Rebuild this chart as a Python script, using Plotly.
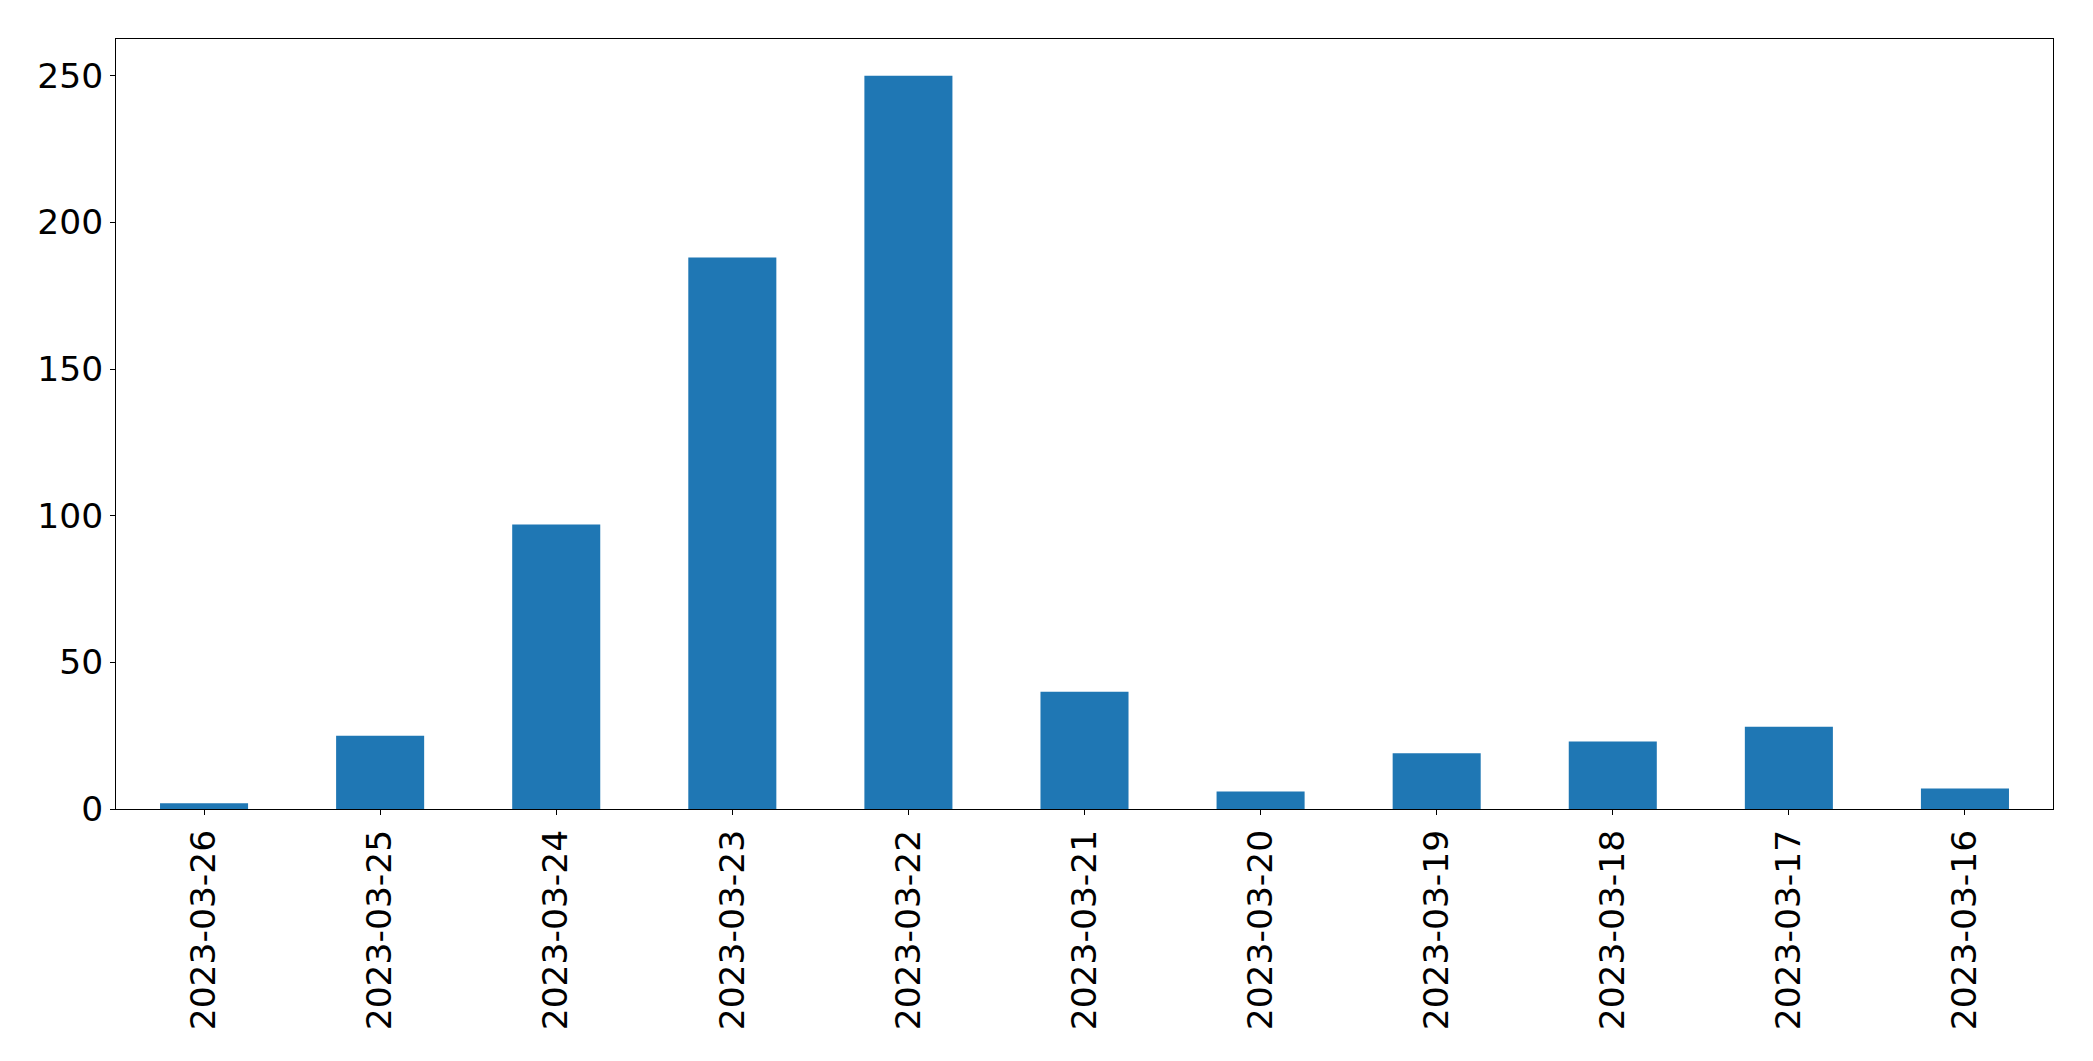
import plotly.graph_objects as go

dates = ["2023-03-26", "2023-03-25", "2023-03-24", "2023-03-23", "2023-03-22",
         "2023-03-21", "2023-03-20", "2023-03-19", "2023-03-18", "2023-03-17",
         "2023-03-16"]
counts = [2, 25, 97, 188, 250, 40, 6, 19, 23, 28, 7]
y_ticks = [0, 50, 100, 150, 200, 250]

fig = go.Figure(go.Bar(x=dates, y=counts, marker=dict(color="#1f77b4", line=dict(width=0))))

font = dict(family="DejaVu Sans", size=34.5, color="black")
fig.update_layout(
    width=2085, height=1053,
    margin=dict(l=108, r=40, t=31, b=252),
    paper_bgcolor="white", plot_bgcolor="white",
    bargap=0.5, showlegend=False,
    font=font,
)
fig.update_xaxes(
    type="category", range=[-0.5, len(dates) - 0.5],
    tickangle=-90, ticks="outside", ticklen=5, tickwidth=1, tickcolor="black",
    showline=True, linecolor="black", linewidth=1, mirror=True,
    showgrid=False, zeroline=False, tickfont=font, ticklabelstandoff=1,
)
fig.update_yaxes(
    range=[0, 262.5], tickvals=y_ticks,
    ticks="outside", ticklen=5, tickwidth=1, tickcolor="black",
    showline=True, linecolor="black", linewidth=1, mirror=True,
    showgrid=False, zeroline=False, tickfont=font,
)
fig.write_html("out.html")
